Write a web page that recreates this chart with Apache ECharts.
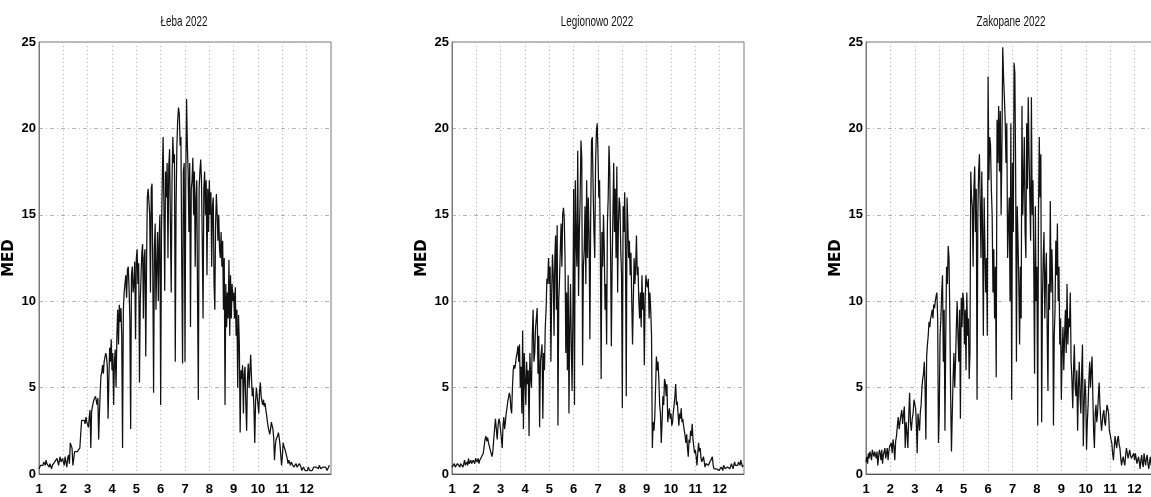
<!DOCTYPE html>
<html>
<head>
<meta charset="utf-8">
<title>MED 2022</title>
<script src="https://cdn.jsdelivr.net/npm/echarts@6/dist/echarts.min.js"></script>
<style>
  html, body { margin: 0; padding: 0; background: #fff; }
  #chart { width: 1151px; height: 497px; }
</style>
</head>
<body>
<div id="chart"></div>
<script>
// miesiace na osi x i liczba dni
var monthTicks = [1, 2, 3, 4, 5, 6, 7, 8, 9, 10, 11, 12];
var monthDays = [31, 28, 31, 30, 31, 30, 31, 31, 30, 31, 30, 31];
var panelTitles = ['Łeba 2022', 'Legionowo 2022', 'Zakopane 2022'];

// dzienne wartosci MED, jeden wiersz = jeden miesiac
var lebaMed = [
  0.3,0.4,0.5,0.4,0.6,0.5,0.7,0.6,0.5,0.8,0.6,0.7,0.5,0.4,0.6,0.5,0.3,0.5,0.6,0.4,0.7,0.8,0.6,0.9,0.7,0.5,0.8,1.0,0.7,0.6,0.9,
  0.8,0.5,1.0,0.7,0.4,0.9,1.1,0.6,1.8,1.7,1.5,0.5,0.6,1.3,1.4,1.2,1.3,1.4,1.3,1.5,1.4,3.1,3.2,3.0,3.1,2.9,3.3,3.0,
  3.0,2.7,3.3,3.7,1.5,3.6,3.9,4.1,4.3,4.2,4.5,4.6,4.0,4.4,2.0,3.5,4.8,5.7,5.9,6.3,5.8,6.5,6.6,7.0,6.8,6.2,3.2,5.5,7.3,6.5,7.8,
  6.0,7.0,4.0,6.5,7.2,5.0,8.0,9.5,7.5,9.8,8.8,9.6,8.0,1.5,9.5,10.5,11.0,11.5,10.2,11.8,12.0,10.8,9.0,2.6,11.5,12.0,10.5,11.0,12.3,7.8,
  12.5,13.0,11.0,12.2,5.3,10.0,11.5,12.8,13.3,9.0,12.5,13.0,6.8,12.0,16.0,16.5,15.8,15.0,10.5,16.5,16.8,11.5,4.7,13.0,14.5,9.5,12.0,14.0,10.0,13.5,15.0,
  4.0,14.0,17.0,19.5,15.5,10.6,17.5,16.0,18.0,12.5,17.8,18.8,14.5,10.5,17.0,19.5,18.0,18.5,6.5,15.5,19.0,20.5,21.2,20.8,19.0,19.5,12.0,6.4,17.5,18.0,
  6.5,17.0,21.7,19.0,17.5,14.0,18.0,8.5,16.5,17.0,18.3,15.0,17.5,12.0,16.0,17.0,10.0,4.3,16.5,17.5,18.2,17.0,13.5,9.0,16.5,17.5,15.0,17.0,11.5,16.5,14.0,
  17.0,15.0,16.3,12.0,15.5,16.0,11.0,9.5,14.5,16.2,15.0,13.5,15.0,13.0,12.5,14.0,12.0,13.5,9.5,12.5,4.0,11.0,8.5,10.5,9.0,12.4,8.0,11.5,9.0,11.0,10.0,
  10.5,9.0,10.8,8.0,9.5,5.0,9.2,7.5,2.4,6.0,5.5,6.3,3.5,5.8,6.2,4.0,2.5,5.5,6.4,5.0,6.0,6.9,5.5,4.5,5.0,3.8,1.8,4.2,5.0,4.5,
  4.0,3.5,4.8,5.3,4.5,4.2,4.0,4.3,3.9,4.1,3.7,3.4,3.0,2.7,2.5,2.3,2.6,3.0,2.8,2.6,2.1,0.8,1.6,2.0,1.9,2.2,2.4,2.1,1.7,1.8,0.5,
  1.0,1.8,1.6,1.5,1.3,1.2,0.9,0.6,0.8,0.7,0.5,0.7,0.8,0.6,0.4,0.3,0.5,0.6,0.4,0.5,0.3,0.6,0.5,0.4,0.2,0.3,0.4,0.3,0.2,0.3,
  0.3,0.2,0.4,0.3,0.2,0.3,0.1,0.2,0.3,0.4,0.3,0.5,0.4,0.3,0.4,0.3,0.5,0.4,0.3,0.2,0.3,0.4,0.5,0.3,0.4,0.3,0.2,0.3,0.4,0.5,0.4
];
var legionowoMed = [
  0.4,0.3,0.5,0.6,0.4,0.5,0.3,0.6,0.7,0.5,0.4,0.6,0.5,0.7,0.4,0.6,0.8,0.5,0.6,0.7,0.5,0.9,0.6,0.7,0.8,0.6,0.5,0.8,0.7,0.6,0.9,
  0.8,0.7,0.9,0.6,0.8,0.7,1.0,0.9,1.2,1.6,2.0,2.2,1.9,2.1,1.8,1.7,1.4,1.5,1.0,1.3,2.0,2.6,3.2,3.1,2.0,2.8,3.2,3.0,
  2.5,2.0,1.5,2.8,3.3,2.6,3.0,3.5,3.8,4.2,4.4,4.7,4.5,3.8,3.5,5.0,6.0,6.3,6.1,6.4,6.8,7.0,7.4,6.5,7.5,5.0,6.2,3.5,8.3,2.6,7.0,
  7.0,4.0,6.5,5.2,6.0,2.2,7.0,5.5,5.0,8.0,9.5,6.5,7.0,8.5,9.0,9.6,5.8,8.0,2.7,6.5,7.0,7.5,3.2,7.0,6.0,8.5,9.5,11.3,11.0,12.5,
  11.0,12.0,6.5,10.5,12.7,11.5,8.0,12.5,13.8,9.5,14.4,2.8,10.0,11.3,13.0,14.5,12.0,15.0,15.4,14.8,12.5,7.0,10.5,6.0,11.5,3.5,8.5,11.0,7.5,4.8,9.2,
  16.5,4.0,17.0,13.5,12.0,18.7,10.3,14.0,16.0,19.3,18.3,6.3,12.0,13.0,15.5,11.0,17.0,12.5,16.0,14.0,7.8,15.0,19.3,19.5,16.5,14.0,12.5,18.0,19.8,20.3,
  18.5,16.0,17.0,13.0,5.5,14.0,12.0,15.0,13.0,9.5,11.0,7.5,14.5,16.0,19.0,17.5,13.0,7.4,12.0,15.0,18.0,14.0,16.5,12.5,17.8,10.5,14.5,16.0,15.5,13.0,11.5,
  3.8,15.5,14.0,16.3,13.0,4.5,16.0,14.5,12.5,13.5,11.5,12.8,10.0,7.5,10.0,12.5,11.0,12.0,13.8,11.5,12.0,10.0,9.0,10.5,8.5,11.5,9.5,10.5,6.3,10.0,11.5,
  11.0,10.8,11.3,9.0,10.5,9.5,8.0,1.5,3.0,2.5,3.3,5.0,6.8,6.0,6.5,5.5,4.0,3.5,1.8,3.0,4.5,4.0,5.5,5.3,4.5,5.2,3.0,3.5,3.8,3.2,
  3.5,2.8,3.0,3.6,4.0,4.5,5.2,4.0,4.2,3.5,2.8,3.5,3.2,3.8,3.0,3.2,2.8,2.5,2.2,1.8,2.3,1.5,1.0,2.0,1.8,2.5,2.2,2.9,2.0,1.6,1.2,
  1.4,1.0,0.5,1.2,1.8,1.3,1.5,0.9,0.7,0.6,1.0,0.7,0.4,0.6,0.5,0.7,0.5,0.4,0.6,0.8,0.7,1.0,0.5,0.3,0.4,0.2,0.3,0.2,0.3,0.2,
  0.3,0.2,0.4,0.3,0.2,0.5,0.4,0.3,0.2,0.3,0.4,0.3,0.5,0.3,0.4,0.6,0.5,0.3,0.4,0.7,0.5,0.4,0.6,0.5,0.7,0.6,0.5,0.8,0.6,0.4,0.5
];
var zakopaneMed = [
  0.7,1.0,0.6,1.2,0.9,1.3,1.1,0.8,1.4,1.2,1.0,1.3,1.1,0.9,1.3,0.5,1.0,1.4,1.2,0.8,1.4,0.6,1.1,1.3,1.5,0.9,1.2,1.5,0.8,1.3,1.6,
  1.5,1.8,1.2,2.0,1.6,0.8,1.9,2.2,2.8,3.3,2.6,3.0,3.4,3.7,2.9,3.5,3.9,1.5,3.0,2.4,1.5,3.3,4.7,3.0,2.5,3.2,3.5,4.3,
  4.3,3.8,2.8,1.2,3.5,3.0,2.5,3.6,4.0,5.0,5.5,5.8,6.5,5.0,2.0,6.8,7.5,8.0,8.8,8.5,9.0,9.2,9.5,9.0,9.8,9.6,10.0,10.3,10.5,9.0,1.8,
  3.5,8.0,9.0,10.5,11.5,6.5,9.5,2.5,8.0,12.0,11.0,13.2,12.5,9.0,4.5,1.3,3.5,5.5,7.0,5.0,6.5,8.5,10.0,8.0,6.5,9.5,3.2,10.2,8.5,10.5,
  10.0,7.5,9.5,6.0,10.5,8.0,9.0,5.5,7.0,17.5,16.0,15.5,12.0,16.5,17.8,14.0,16.5,4.3,15.0,17.5,18.5,15.5,12.5,17.5,14.0,8.0,16.0,13.0,10.5,12.5,8.0,
  23.0,17.0,19.5,19.0,16.5,15.0,10.5,13.0,9.0,12.0,5.6,20.5,18.0,21.3,17.5,21.0,15.0,19.0,24.7,23.0,21.8,20.5,18.0,20.3,12.5,14.5,16.0,10.0,20.3,4.3,
  18.0,14.0,23.8,23.2,17.5,6.5,15.5,13.5,11.0,7.5,12.0,9.0,21.3,15.0,17.0,19.5,14.0,12.5,20.3,16.5,21.8,18.5,16.0,13.5,21.8,15.0,17.0,12.0,5.8,15.5,10.0,
  12.0,2.8,15.0,19.5,16.0,18.5,3.0,10.0,12.5,14.0,9.0,11.5,12.8,8.5,4.8,11.0,9.5,15.8,10.5,13.0,11.0,2.8,8.0,9.5,13.5,11.5,14.5,10.0,12.0,7.5,9.0,
  4.3,7.0,8.5,6.0,8.0,9.5,7.0,11.0,7.5,9.0,8.5,10.5,6.5,5.5,3.8,6.0,7.5,5.0,4.5,6.0,2.5,5.0,6.5,4.5,3.5,6.0,7.5,1.6,4.0,5.5,
  4.5,1.4,3.0,4.0,5.5,6.5,5.0,6.0,6.8,4.5,2.5,1.5,3.5,4.0,3.0,3.5,4.5,5.3,4.0,3.2,2.5,3.0,3.5,3.7,3.0,2.8,3.5,4.0,3.8,3.5,2.5,
  2.3,2.0,1.8,1.2,0.8,1.5,2.2,1.8,1.5,2.0,2.2,1.7,1.5,0.9,0.5,0.8,1.0,0.7,0.5,1.1,1.5,1.2,0.9,1.0,1.4,1.1,0.9,0.8,1.0,1.2,
  0.8,1.2,0.9,0.6,0.5,1.0,0.7,0.3,0.8,1.1,0.6,0.4,1.2,0.8,0.5,0.9,1.1,0.6,0.3,0.7,1.0,0.5,0.8,1.2,0.6,0.4,0.9,1.0,0.7,0.5,0.8
];

// [miesiac + ulamek miesiaca, wartosc]
function toPoints(values) {
    var out = [];
    var k = 0;
    for (var m = 0; m < monthTicks.length; m++) {
        for (var d = 0; d < monthDays[m]; d++) {
            out.push([monthTicks[m] + d / monthDays[m], values[k++]]);
        }
    }
    return out;
}

var labelFont = "'Liberation Sans', Arial, sans-serif";
var grids = [
    {left: 39, top: 42, width: 292, height: 432},
    {left: 452, top: 42, width: 292, height: 432},
    {left: 866, top: 42, width: 293, height: 432}
];
var seriesData = [lebaMed, legionowoMed, zakopaneMed];

var option = {
    animation: false,
    backgroundColor: '#fff',
    graphic: [],
    grid: [],
    xAxis: [],
    yAxis: [],
    series: []
};

for (var i = 0; i < 3; i++) {
    var g = grids[i];
    option.grid.push({
        left: g.left, top: g.top, width: g.width, height: g.height,
        outerBoundsMode: 'none',
        containLabel: false,
        show: true, borderColor: '#7a7a7a', borderWidth: 1
    });
    // tytul waski jak w oryginale (skala w poziomie)
    option.graphic.push({
        type: 'text',
        x: g.left + 145, y: 22,
        scaleX: 0.66,
        style: {
            text: panelTitles[i],
            align: 'center', verticalAlign: 'middle',
            font: '15px ' + labelFont,
            fill: '#111'
        }
    });
    option.xAxis.push({
        gridIndex: i,
        type: 'value',
        min: 1, max: 13, interval: 1,
        axisLine: {show: true, lineStyle: {color: '#555', width: 1}},
        axisTick: {show: false},
        splitLine: {show: true, lineStyle: {color: '#b4b4b4', type: [1, 3], width: 1}},
        axisLabel: {
            margin: 9,
            fontFamily: labelFont, fontSize: 13, fontWeight: 'bold', color: '#000',
            formatter: function (v) { return v < 13 ? String(v) : ''; }
        }
    });
    option.yAxis.push({
        gridIndex: i,
        type: 'value',
        min: 0, max: 25, interval: 5,
        name: 'MED',
        nameLocation: 'middle',
        nameRotate: 90,
        nameGap: 22,
        nameTextStyle: {fontFamily: 'DejaVu Sans', fontSize: 15, fontWeight: 'bold', color: '#000'},
        axisLine: {show: true, lineStyle: {color: '#7a7a7a', width: 1}},
        axisTick: {show: false},
        splitLine: {show: true, lineStyle: {color: '#b4b4b4', type: [4, 3, 1, 3], width: 1}},
        axisLabel: {margin: 3, fontFamily: labelFont, fontSize: 13, fontWeight: 'bold', color: '#000'}
    });
    option.series.push({
        name: panelTitles[i],
        type: 'line',
        xAxisIndex: i,
        yAxisIndex: i,
        showSymbol: false,
        symbol: 'none',
        sampling: null,
        clip: true,
        lineStyle: {color: '#111', width: 1.25},
        data: toPoints(seriesData[i])
    });
}

var myChart = echarts.init(document.getElementById('chart'));
myChart.setOption(option);
</script>
</body>
</html>
